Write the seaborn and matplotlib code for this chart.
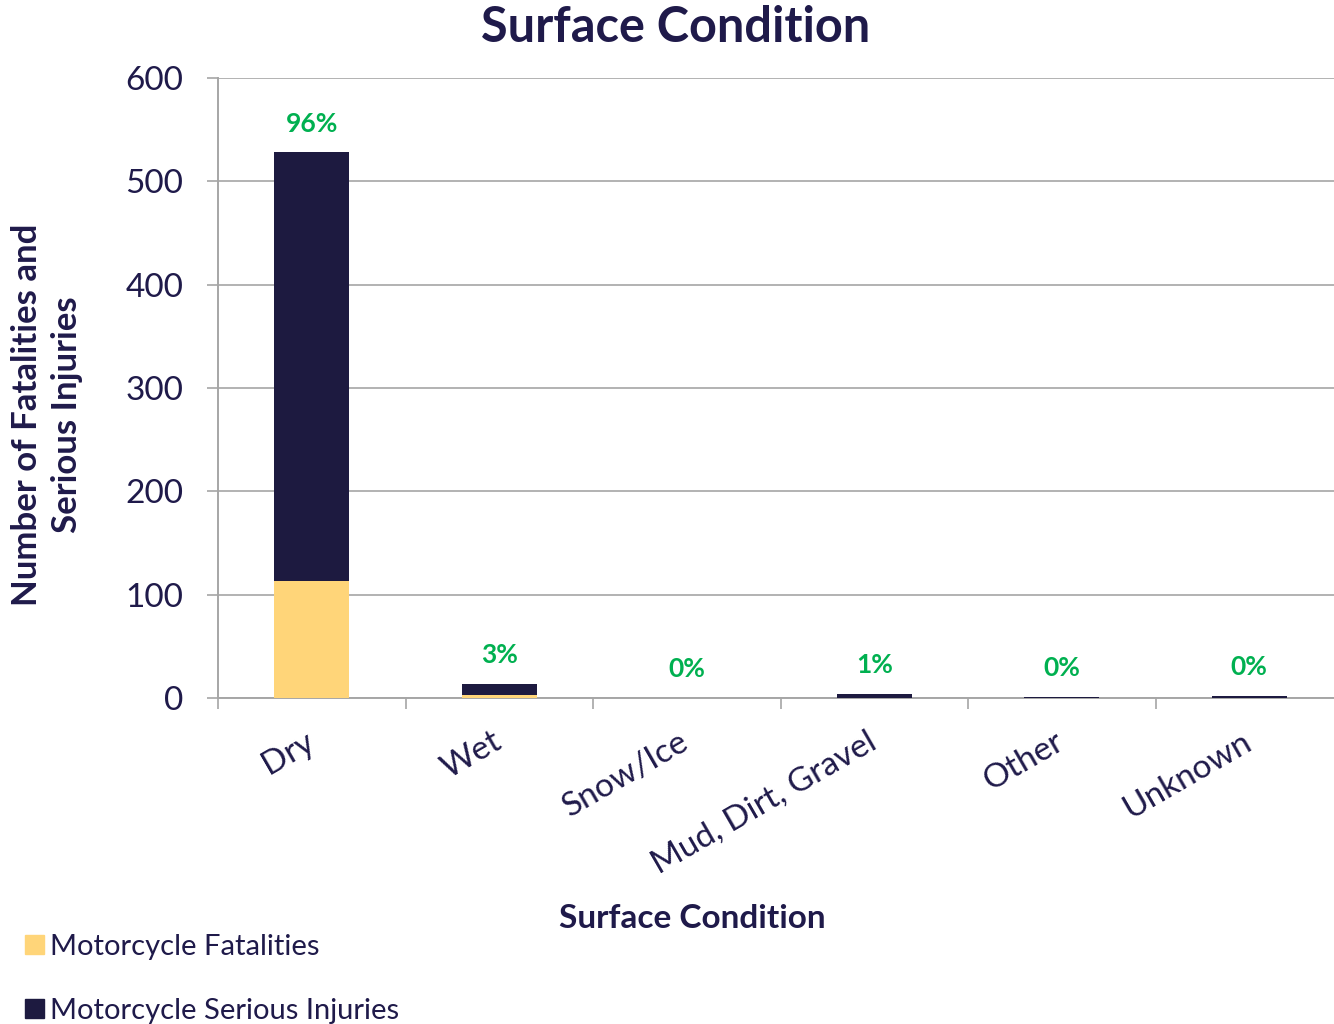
import matplotlib
matplotlib.use("Agg")
import matplotlib.pyplot as plt
import matplotlib.patches as mpatches
import seaborn as sns
import pandas as pd
import numpy as np

categories = ["Dry", "Wet", "Snow/Ice", "Mud, Dirt, Gravel", "Other", "Unknown"]
fatalities = [113, 3, 0, 0, 0, 0]
serious_injuries = [415, 11, 0, 4, 1, 2]
pct_labels = ["96%", "3%", "0%", "1%", "0%", "0%"]
yticks = [0, 100, 200, 300, 400, 500, 600]

NAVY = "#1D1A40"
YELLOW = "#FFD579"
TEXT = "#1F1A4A"
GREEN = "#00B050"
GRID = "#A6A6A6"

sns.set_theme(style="white")
plt.rcParams["font.family"] = ["Lato", "DejaVu Sans"]

df = pd.DataFrame({
    "cat": categories,
    "fat": fatalities,
    "si": serious_injuries,
})
df["total"] = df["fat"] + df["si"]

fig = plt.figure(figsize=(13.34, 10.24), dpi=100)
ax = fig.add_axes([218 / 1334, 1 - 698 / 1024, (1343 - 218) / 1334, (698 - 78) / 1024])

sns.barplot(data=df, x="cat", y="total", color=NAVY, width=0.4, ax=ax,
            saturation=1, zorder=3, linewidth=0)
sns.barplot(data=df, x="cat", y="fat", color=YELLOW, width=0.4, ax=ax,
            saturation=1, zorder=4, linewidth=0)

ax.set_xlim(-0.5, len(categories) - 0.5)
ax.set_ylim(0, 600)
ax.set_yticks(yticks)
ax.yaxis.grid(True, color=GRID, linewidth=1.2, zorder=0)
ax.xaxis.grid(False)
for s in ["top", "right"]:
    ax.spines[s].set_visible(False)
for s in ["left", "bottom"]:
    ax.spines[s].set_color(GRID)
    ax.spines[s].set_linewidth(1.4)

ax.tick_params(axis="y", which="major", direction="out", length=8, width=1.2,
               color=GRID, labelsize=24, labelcolor=TEXT, pad=17, left=True)
ax.set_xticks(np.arange(-0.5, len(categories), 1.0), minor=True)
ax.tick_params(axis="x", which="minor", direction="out", length=8, width=1.2,
               color=GRID, bottom=True)
ax.tick_params(axis="x", which="major", length=0, labelsize=24,
               labelcolor=TEXT, pad=30)
ax.set_xticks(range(len(categories)))
ax.set_xticklabels(categories, rotation=30, ha="right", va="center",
                   rotation_mode="anchor")

for i, (t, lab) in enumerate(zip(df["total"], pct_labels)):
    ax.annotate(lab, xy=(i, t), xytext=(0, 12), textcoords="offset points",
                ha="center", va="bottom", color=GREEN, fontsize=19,
                fontweight="bold")

ax.set_xlabel("Surface Condition", fontsize=24, fontweight="bold", color=TEXT)
ax.xaxis.set_label_coords((692 - 218) / 1125, -(918 - 698) / 620)
ax.xaxis.label.set_va("center")
ax.set_ylabel("Number of Fatalities and\nSerious Injuries", fontsize=25,
              fontweight="bold", color=TEXT, linespacing=1.3)
ax.yaxis.set_label_coords(-(218 - 47) / 1125, (698 - 415) / 620)
ax.yaxis.label.set_va("center")

fig.text(676 / 1334, 1 - 28 / 1024, "Surface Condition", ha="center",
         va="center", fontsize=35, fontweight="bold", color=TEXT)

handles = [mpatches.Patch(color=YELLOW, label="Motorcycle Fatalities"),
           mpatches.Patch(color=NAVY, label="Motorcycle Serious Injuries")]
leg = fig.legend(handles=handles, loc="lower left",
                 bbox_to_anchor=(-1 / 1334, -26 / 1024), frameon=False,
                 fontsize=21, labelcolor=TEXT, handlelength=0.65,
                 handleheight=0.65, handletextpad=0.2, labelspacing=1.3)

fig.savefig("out.png", dpi=100)
